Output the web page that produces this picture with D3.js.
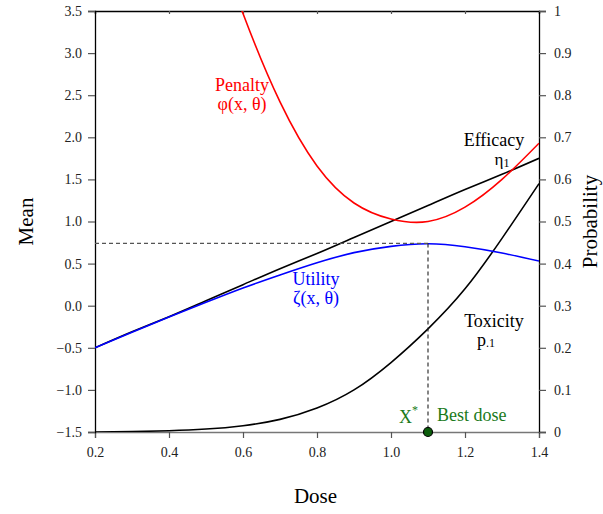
<!DOCTYPE html>
<html>
<head>
<meta charset="utf-8">
<script src="https://cdn.jsdelivr.net/npm/d3@7"></script>
<style>
  body { margin: 0; background: #fff; }
  text { font-family: "Liberation Serif", "DejaVu Serif", serif; }
</style>
</head>
<body>
<div id="chart"></div>
<script>
// values
var doses = [0.2, 0.3, 0.4, 0.5, 0.6, 0.7, 0.8, 0.9, 1.0, 1.1, 1.2, 1.3, 1.4];
var efficacyMean = [-0.5, -0.31, -0.13, 0.06, 0.25, 0.44, 0.62, 0.81, 1.0, 1.19, 1.38, 1.56, 1.75];
var utilityMean = [-0.5, -0.315, -0.135, 0.04, 0.21, 0.365, 0.51, 0.63, 0.705, 0.735, 0.70, 0.625, 0.53];
var toxicityProb = [0.0, 0.001, 0.003, 0.007, 0.015, 0.03, 0.057, 0.10, 0.165, 0.245, 0.34, 0.46, 0.59];
var penaltyDoses = [0.5, 0.6, 0.7, 0.8, 0.9, 1.0, 1.1, 1.2, 1.3, 1.4];
var penaltyMean = [4.7, 3.47, 2.42, 1.66, 1.22, 1.03, 1.0, 1.17, 1.50, 1.93];
var bestDose = 1.1;
var bestUtility = 0.74;

var meanTicks = [-1.5, -1.0, -0.5, 0.0, 0.5, 1.0, 1.5, 2.0, 2.5, 3.0, 3.5];
var probTicks = [0, 0.1, 0.2, 0.3, 0.4, 0.5, 0.6, 0.7, 0.8, 0.9, 1];
var doseTicks = [0.2, 0.4, 0.6, 0.8, 1.0, 1.2, 1.4];

// chart size
var svgWidth = 603;
var svgHeight = 514;
var margin = { top: 11, right: 64, bottom: 82, left: 95 };
var width = svgWidth - margin.left - margin.right;
var height = svgHeight - margin.top - margin.bottom;

var svg = d3.select("#chart")
  .append("svg")
  .attr("width", svgWidth)
  .attr("height", svgHeight);

var chartGroup = svg.append("g")
  .attr("transform", `translate(${margin.left}, ${margin.top})`);

var xScale = d3.scaleLinear().domain([0.2, 1.4]).range([0, width]);
var yMean = d3.scaleLinear().domain([-1.5, 3.5]).range([height, 0]);
var yProb = d3.scaleLinear().domain([0, 1]).range([height, 0]);

chartGroup.append("clipPath")
  .attr("id", "plotClip")
  .append("rect")
  .attr("width", width)
  .attr("height", height);

// axes
var leftAxis = d3.axisLeft(yMean).tickValues(meanTicks).tickSize(7).tickPadding(6)
  .tickFormat(d3.format(".1f"));
var rightAxis = d3.axisRight(yProb).tickValues(probTicks).tickSize(7).tickPadding(8)
  .tickFormat(d3.format("~g"));
var bottomAxis = d3.axisBottom(xScale).tickValues(doseTicks).tickSize(6).tickPadding(9)
  .tickFormat(d3.format(".1f"));
var topAxis = d3.axisTop(xScale).tickValues(doseTicks).tickSize(-3).tickFormat("");

function styleAxis(g, lineColor) {
  g.select(".domain").attr("stroke", lineColor).attr("stroke-width", 1.3);
  g.selectAll(".tick line").attr("stroke", "#555").attr("stroke-width", 1.2);
  g.selectAll(".tick text")
    .attr("font-family", "Liberation Serif, serif")
    .attr("font-size", 14)
    .attr("fill", "#222");
}

chartGroup.append("g").call(topAxis).call(g => styleAxis(g, "#000"));
chartGroup.append("g")
  .attr("transform", `translate(0, ${height})`)
  .call(bottomAxis).call(g => styleAxis(g, "#777"));
chartGroup.append("g").call(leftAxis).call(g => styleAxis(g, "#000"));
chartGroup.append("g")
  .attr("transform", `translate(${width}, 0)`)
  .call(rightAxis).call(g => styleAxis(g, "#000"));

// curves
function makeLine(yScale) {
  return d3.line()
    .x(d => xScale(d[0]))
    .y(d => yScale(d[1]))
    .curve(d3.curveNatural);
}

var curves = [
  { pts: d3.zip(doses, toxicityProb), y: yProb, color: "#000" },
  { pts: d3.zip(doses, efficacyMean), y: yMean, color: "#000" },
  { pts: d3.zip(penaltyDoses, penaltyMean), y: yMean, color: "#ff0000" },
  { pts: d3.zip(doses, utilityMean), y: yMean, color: "#0000ff" }
];

var curveGroup = chartGroup.append("g").attr("clip-path", "url(#plotClip)");
curves.forEach(function(c) {
  curveGroup.append("path")
    .datum(c.pts)
    .attr("fill", "none")
    .attr("stroke", c.color)
    .attr("stroke-width", 1.6)
    .attr("d", makeLine(c.y));
});

// best dose guide lines
chartGroup.append("line")
  .attr("x1", 0).attr("x2", xScale(bestDose))
  .attr("y1", yMean(bestUtility)).attr("y2", yMean(bestUtility))
  .attr("stroke", "#555").attr("stroke-width", 1.1)
  .attr("stroke-dasharray", "4,3");
chartGroup.append("line")
  .attr("x1", xScale(bestDose)).attr("x2", xScale(bestDose))
  .attr("y1", yMean(bestUtility)).attr("y2", height)
  .attr("stroke", "#222").attr("stroke-width", 1.1)
  .attr("stroke-dasharray", "4,3");

chartGroup.append("circle")
  .attr("cx", xScale(bestDose))
  .attr("cy", height)
  .attr("r", 4.5)
  .attr("fill", "#0b5d0b")
  .attr("stroke", "#000")
  .attr("stroke-width", 1.2);

// curve labels
function label(x, y, txt, color, anchor, size) {
  return svg.append("text")
    .attr("x", x).attr("y", y)
    .attr("font-size", size || 18)
    .attr("fill", color)
    .attr("text-anchor", anchor || "middle")
    .text(txt);
}

label(242, 91, "Penalty", "#ff0000");
label(242, 110, "\u03c6(x, \u03b8)", "#ff0000");
label(316, 285, "Utility", "#0000ff");
label(316, 304, "\u03b6(x, \u03b8)", "#0000ff");
label(494, 146, "Efficacy", "#000");

var eta = label(502, 165, "\u03b7", "#000", "middle", 17);
eta.append("tspan").attr("font-size", 12).attr("dy", 2).text("1");

label(494, 327, "Toxicity", "#000");
var ptox = label(486, 346, "p", "#000");
ptox.append("tspan").attr("font-size", 12).attr("dy", 1).text(".1");

var xstar = label(399, 423, "X", "#1a7a1a", "start");
xstar.append("tspan").attr("font-size", 12).attr("dy", -9).text("*");
label(437, 421, "Best dose", "#1a7a1a", "start");

// axis titles
svg.append("text")
  .attr("transform", `translate(${svgWidth / 2 + 14}, 503)`)
  .attr("text-anchor", "middle")
  .attr("font-size", 21)
  .text("Dose");

svg.append("text")
  .attr("transform", `translate(33, ${margin.top + height / 2}) rotate(-90)`)
  .attr("text-anchor", "middle")
  .attr("font-size", 21)
  .text("Mean");

svg.append("text")
  .attr("transform", `translate(597, ${margin.top + height / 2}) rotate(-90)`)
  .attr("text-anchor", "middle")
  .attr("font-size", 21)
  .text("Probability");
</script>
</body>
</html>
